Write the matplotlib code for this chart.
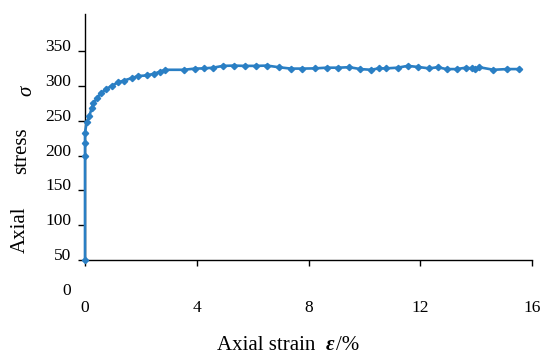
import matplotlib
matplotlib.use("Agg")
import matplotlib.pyplot as plt
from matplotlib.transforms import ScaledTranslation

# --- data ---
strain = [0.0, 0.0, 0.0, 0.0, 0.06, 0.15, 0.24, 0.30, 0.42, 0.56, 0.75, 0.95,
          1.19, 1.39, 1.67, 1.90, 2.23, 2.48, 2.68, 2.86, 3.54, 3.93, 4.26,
          4.58, 4.94, 5.32, 5.71, 6.13, 6.52, 6.93, 7.36, 7.77, 8.23, 8.65,
          9.07, 9.46, 9.86, 10.24, 10.51, 10.77, 11.19, 11.55, 11.93, 12.32,
          12.62, 12.94, 13.30, 13.63, 13.84, 13.96, 14.11, 14.62, 15.10, 15.54]
stress = [50, 199, 218, 233, 247.6, 256, 268, 275, 282, 289, 295, 300,
          305, 307.6, 311, 314, 315, 317.6, 320, 323, 323, 324.7, 325,
          326, 328.6, 329, 328.6, 328.6, 329, 326.7, 324.7, 324.7, 325, 326,
          326, 326.7, 324, 323, 325, 325, 326, 328.6, 327, 325,
          326.7, 324, 324, 326, 325, 324, 326.7, 323, 324, 324]
x_ticks = [0, 4, 8, 12, 16]
y_ticks = [0, 50, 100, 150, 200, 250, 300, 350]

plt.rcParams['font.family'] = ['Liberation Serif', 'DejaVu Serif']
BLUE = '#2a7fc4'

fig = plt.figure(figsize=(5.4, 3.56), dpi=100)
ax = fig.add_axes([85 / 540, 61 / 356, 447 / 540, 281 / 356])

ax.plot(strain, stress, color=BLUE, lw=1.9, marker='D', ms=3.2,
        mec=BLUE, mfc=BLUE, zorder=3, clip_on=False)

ax.set_xlim(0, 16)
ax.set_ylim(0, 403)

# spines: x axis crosses at 50, y axis starts there
for s in ['top', 'right']:
    ax.spines[s].set_visible(False)
ax.spines['bottom'].set_position(('data', 50))
ax.spines['left'].set_bounds(50, 403)
for s in ['bottom', 'left']:
    ax.spines[s].set_linewidth(1.0)

ax.set_xticks(x_ticks)
ax.set_yticks(y_ticks)
ax.tick_params(axis='x', direction='out', length=4, width=1, pad=25, labelsize=12.5)
ax.tick_params(axis='y', direction='out', length=5, width=1, pad=5, labelsize=12.5)
ax.yaxis.get_major_ticks()[0].tick1line.set_visible(False)

# y tick labels sit a little above their ticks
shift = ScaledTranslation(0, 6 / 100, fig.dpi_scale_trans)
for lab in ax.get_yticklabels():
    lab.set_transform(lab.get_transform() + shift)

# axis titles
ty = 1 - 350 / 356
fig.text(326 / 540, ty, 'Axial strain  ', ha='right', va='baseline', fontsize=15)
fig.text(326 / 540, ty, 'ε', ha='left', va='baseline', fontsize=15,
         style='italic', fontweight='bold')
fig.text(336 / 540, ty, '/%', ha='left', va='baseline', fontsize=15)

fig.text(20 / 540, 1 - 230 / 356, 'Axial', rotation=90, ha='center', va='center',
         fontsize=15)
fig.text(22 / 540, 1 - 151 / 356, 'stress', rotation=90, ha='center', va='center',
         fontsize=15)
fig.text(27 / 540, 1 - 91 / 356, 'σ', rotation=90, ha='center', va='center',
         fontsize=15, style='italic')

fig.savefig('out.png', dpi=100)
